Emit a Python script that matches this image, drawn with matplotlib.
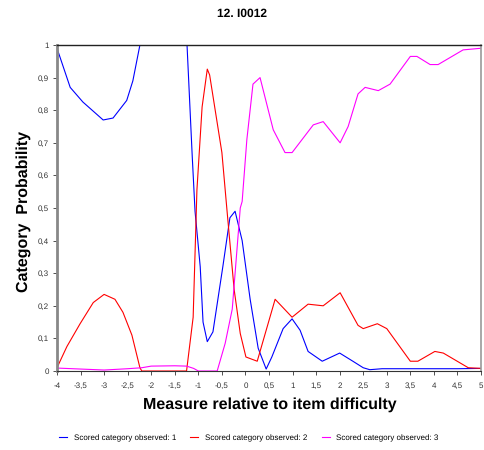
import numpy as np
import matplotlib
matplotlib.use("Agg")
import matplotlib.pyplot as plt

plt.rcParams['font.family'] = 'Liberation Sans'
plt.rcParams['text.hinting'] = 'no_hinting'
plt.rcParams['text.hinting_factor'] = 1

# Scored category observed: 1
x_cat1 = [-4.0, -3.72, -3.45, -3.02, -2.81, -2.52, -2.39, -2.24, -2.0, -1.5,
          -1.24, -1.13, -1.07, -0.96, -0.9, -0.81, -0.69, -0.48, -0.33, -0.22,
          -0.07, 0.1, 0.27, 0.44, 0.56, 0.8, 0.99, 1.16, 1.33, 1.63, 2.0,
          2.28, 2.5, 2.64, 2.9, 3.5, 4.0, 4.5, 5.0]
y_cat1 = [0.99, 0.87, 0.825, 0.77, 0.776, 0.83, 0.89, 1.0, 1.0, 1.0,
          1.0, 0.66, 0.49, 0.32, 0.15, 0.09, 0.12, 0.32, 0.47, 0.49,
          0.40, 0.22, 0.07, 0.006, 0.043, 0.13, 0.16, 0.125, 0.06, 0.03, 0.055,
          0.03, 0.01, 0.004, 0.007, 0.007, 0.007, 0.007, 0.008]

# Scored category observed: 2
x_cat2 = [-4.0, -3.79, -3.51, -3.23, -3.0, -2.77, -2.6, -2.41, -2.24, -2.2,
          -1.25, -1.11, -1.03, -0.92, -0.81, -0.76, -0.5, -0.39, -0.24, -0.11,
          0.01, 0.25, 0.63, 0.99, 1.33, 1.65, 2.01, 2.39, 2.5, 2.8, 3.0,
          3.5, 3.66, 4.02, 4.2, 4.73, 5.0]
y_cat2 = [0.01, 0.075, 0.145, 0.21, 0.235, 0.22, 0.18, 0.11, 0.01, 0.0,
          0.0, 0.165, 0.555, 0.81, 0.926, 0.908, 0.67, 0.49, 0.25, 0.115,
          0.043, 0.03, 0.22, 0.165, 0.205, 0.20, 0.24, 0.14, 0.13, 0.145, 0.13,
          0.03, 0.03, 0.06, 0.055, 0.01, 0.008]

# Scored category observed: 3
x_cat3 = [-4.0, -3.0, -2.5, -2.2, -2.0, -1.5, -1.25, -1.1, -1.0, -0.6,
          -0.43, -0.28, -0.11, -0.07, 0.03, 0.16, 0.31, 0.59, 0.84, 0.99,
          1.44, 1.65, 2.01, 2.18, 2.39, 2.54, 2.82, 3.07, 3.5, 3.64, 3.92,
          4.09, 4.62, 5.0]
y_cat3 = [0.009, 0.003, 0.007, 0.01, 0.015, 0.016, 0.015, 0.008, 0.0, 0.0,
          0.085, 0.19, 0.50, 0.52, 0.71, 0.88, 0.9, 0.74, 0.67, 0.67,
          0.755, 0.765, 0.70, 0.75, 0.85, 0.87, 0.86, 0.88, 0.965, 0.965, 0.94,
          0.94, 0.985, 0.99]

x_ticks = np.arange(-4, 5.01, 0.5)
y_ticks = np.arange(0, 1.01, 0.1)

fig = plt.figure(figsize=(4.84, 4.5), dpi=100)
ax = fig.add_axes([57 / 484, 1 - 371 / 450, 424 / 484, 326 / 450])

ax.plot(x_cat1, y_cat1, color='#0000ff', lw=0.8, label='Scored category observed: 1')
ax.plot(x_cat2, y_cat2, color='#ff0000', lw=0.8, label='Scored category observed: 2')
ax.plot(x_cat3, y_cat3, color='#ff00ff', lw=0.8, label='Scored category observed: 3')

ax.set_xlim(-4, 5)
ax.set_ylim(0, 1)
ax.tick_params(labelsize=5.5, length=3, width=0.6, colors='#333333')
ax.tick_params(axis='x', pad=7)
ax.tick_params(axis='y', pad=3)
ax.set_xticks(x_ticks)
ax.set_xticklabels([('%g' % v).replace('.', ',') for v in x_ticks])
ax.set_yticks(y_ticks)
ax.set_yticklabels([('%g' % round(v, 1)).replace('.', ',') for v in y_ticks])
fig.canvas.draw()
for lbl in ax.get_xticklabels():
    lbl.set_verticalalignment('center_baseline')

for s in ax.spines.values():
    s.set_zorder(5)
ax.spines['top'].set_color('#222222')
ax.spines['top'].set_linewidth(1.0)
ax.spines['bottom'].set_color('#333333')
ax.spines['bottom'].set_linewidth(0.8)
ax.spines['left'].set_color('#888888')
ax.spines['left'].set_linewidth(2.0)
ax.spines['right'].set_color('#999999')
ax.spines['right'].set_linewidth(1.2)

fig.text(270 / 484, 1 - 405 / 450, 'Measure relative to item difficulty',
         ha='center', va='center', fontsize=11.5, fontweight='bold')
fig.text(24 / 484, 1 - 211 / 450, 'Category  Probability', rotation=90,
         ha='center', va='center', fontsize=11.5, fontweight='bold')
fig.text(0.5, 1 - 14 / 450, '12. I0012', ha='center', va='center',
         fontsize=8.5, fontweight='bold')

fig.legend(loc='center', bbox_to_anchor=(0.514, 1 - 438 / 450), ncol=3, frameon=False,
           fontsize=5.8, handlelength=1.0, handletextpad=0.8, columnspacing=1.8)

fig.savefig('out.png', dpi=100)
